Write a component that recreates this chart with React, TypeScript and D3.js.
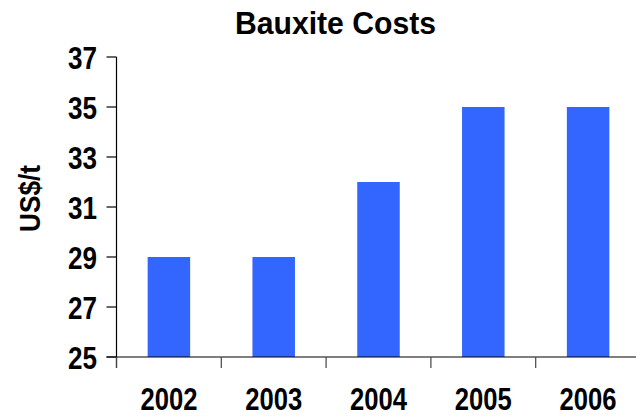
import React, { useRef, useEffect } from 'react';
import * as d3 from 'd3';

const years = ['2002', '2003', '2004', '2005', '2006'];
const costs = [29, 29, 32, 35, 35];
const yTicks = [25, 27, 29, 31, 33, 35, 37];

// narrow bold look: Liberation Sans squeezed with textLength
const FONT = "'Liberation Sans', Arial, sans-serif";

const App = () => {
  const svgRef = useRef<SVGSVGElement>(null);

  useEffect(() => {
    d3.select(svgRef.current).selectAll('*').remove();

    const width = 636;
    const height = 417;
    const left = 116.5;
    const right = 640.5;
    const top = 57;
    const bottom = 357;

    const svg = d3.select(svgRef.current)
      .attr('width', width)
      .attr('height', height)
      .style('background', '#fff');

    const x = d3.scaleBand().domain(years).range([left, right]).paddingInner(0).paddingOuter(0);
    const y = d3.scaleLinear().domain([25, 37]).range([bottom, top]);

    // bars
    const barW = 42.5;
    svg.selectAll('rect.bar')
      .data(costs)
      .enter()
      .append('rect')
      .attr('class', 'bar')
      .attr('x', (d, i) => x(years[i])! + x.bandwidth() / 2 - barW / 2)
      .attr('y', d => y(d))
      .attr('width', barW)
      .attr('height', d => bottom - y(d))
      .attr('fill', '#3366ff');

    // y axis
    svg.append('line')
      .attr('x1', left).attr('x2', left)
      .attr('y1', top).attr('y2', bottom + 11)
      .attr('stroke', '#000').attr('stroke-width', 1.2);

    svg.selectAll('line.ytick')
      .data(yTicks)
      .enter()
      .append('line')
      .attr('x1', left - 10).attr('x2', left)
      .attr('y1', d => y(d)).attr('y2', d => y(d))
      .attr('stroke', '#000').attr('stroke-width', 1.2);

    svg.selectAll('text.ylab')
      .data(yTicks)
      .enter()
      .append('text')
      .attr('x', 97)
      .attr('y', d => y(d) + 11.5)
      .attr('text-anchor', 'end')
      .attr('textLength', 29)
      .attr('lengthAdjust', 'spacingAndGlyphs')
      .style('font-family', FONT)
      .style('font-weight', 'bold')
      .style('font-size', '30.5px')
      .attr('fill', '#000')
      .text(d => d);

    // x axis
    svg.append('line')
      .attr('x1', left - 10).attr('x2', width)
      .attr('y1', bottom).attr('y2', bottom)
      .attr('stroke', '#000').attr('stroke-width', 1.2);

    svg.selectAll('line.xtick')
      .data(years)
      .enter()
      .append('line')
      .attr('x1', d => x(d)!).attr('x2', d => x(d)!)
      .attr('y1', bottom).attr('y2', bottom + 11)
      .attr('stroke', '#444').attr('stroke-width', 1.2);

    svg.selectAll('text.xlab')
      .data(years)
      .enter()
      .append('text')
      .attr('x', d => x(d)! + x.bandwidth() / 2)
      .attr('y', 410)
      .attr('text-anchor', 'middle')
      .attr('textLength', 57)
      .attr('lengthAdjust', 'spacingAndGlyphs')
      .style('font-family', FONT)
      .style('font-weight', 'bold')
      .style('font-size', '30.5px')
      .attr('fill', '#000')
      .text(d => d);

    // title
    svg.append('text')
      .attr('x', 335.5)
      .attr('y', 33.5)
      .attr('text-anchor', 'middle')
      .attr('textLength', 201)
      .attr('lengthAdjust', 'spacingAndGlyphs')
      .style('font-family', FONT)
      .style('font-weight', 'bold')
      .style('font-size', '32px')
      .attr('fill', '#000')
      .text('Bauxite Costs');

    // y label
    svg.append('text')
      .attr('transform', 'translate(39.5, 198.5) rotate(-90)')
      .attr('text-anchor', 'middle')
      .attr('textLength', 67)
      .attr('lengthAdjust', 'spacingAndGlyphs')
      .style('font-family', FONT)
      .style('font-weight', 'bold')
      .style('font-size', '30px')
      .attr('fill', '#000')
      .text('US$/t');
  }, []);

  return (
    <svg ref={svgRef} style={{ position: 'absolute', left: 0, top: 0 }}></svg>
  );
};

export default App;
